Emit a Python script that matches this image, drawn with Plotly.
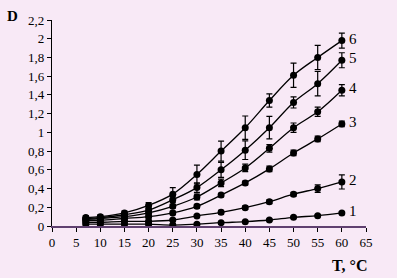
import plotly.graph_objects as go

T = [7, 10, 15, 20, 25, 30, 35, 40, 45, 50, 55, 60]
s1 = [0.02, 0.02, 0.02, 0.02, 0.01, 0.02, 0.035, 0.046, 0.064, 0.093, 0.11, 0.14]
s2 = [0.04, 0.04, 0.05, 0.05, 0.064, 0.107, 0.146, 0.196, 0.26, 0.34, 0.40, 0.47]
s3 = [0.06, 0.06, 0.08, 0.10, 0.14, 0.21, 0.33, 0.46, 0.61, 0.78, 0.93, 1.09]
s4 = [0.07, 0.08, 0.10, 0.14, 0.21, 0.31, 0.46, 0.62, 0.83, 1.05, 1.22, 1.45]
s5 = [0.08, 0.09, 0.12, 0.17, 0.28, 0.41, 0.60, 0.81, 1.05, 1.32, 1.52, 1.77]
s6 = [0.09, 0.10, 0.14, 0.22, 0.34, 0.55, 0.80, 1.05, 1.34, 1.61, 1.80, 1.98]
e1 = [0.01] * 12
e2 = [0.01, 0.01, 0.01, 0.01, 0.01, 0.01, 0.02, 0.02, 0.02, 0.02, 0.04, 0.075]
e3 = [0.01, 0.01, 0.01, 0.01, 0.02, 0.02, 0.02, 0.02, 0.03, 0.03, 0.03, 0.03]
e4 = [0.01, 0.01, 0.01, 0.02, 0.02, 0.03, 0.04, 0.04, 0.04, 0.05, 0.05, 0.06]
e5 = [0.01, 0.01, 0.02, 0.02, 0.03, 0.05, 0.08, 0.10, 0.12, 0.06, 0.13, 0.08]
e6 = [0.02, 0.02, 0.02, 0.03, 0.07, 0.10, 0.107, 0.125, 0.07, 0.13, 0.13, 0.08]
names = ["1", "2", "3", "4", "5", "6"]
xticks = list(range(0, 70, 5))
yticks = [0, 0.2, 0.4, 0.6, 0.8, 1.0, 1.2, 1.4, 1.6, 1.8, 2.0, 2.2]
ylabels = ["0", "0,2", "0,4", "0,6", "0,8", "1", "1,2", "1,4", "1,6", "1,8", "2", "2,2"]

series = [s1, s2, s3, s4, s5, s6]
errs = [e1, e2, e3, e4, e5, e6]
SERIF = "Liberation Serif, Times New Roman, serif"

fig = go.Figure()
for s, e, n in zip(series, errs, names):
    fig.add_trace(go.Scatter(
        x=T, y=s, mode="lines+markers", name=n,
        line=dict(color="black", width=1.3, shape="spline"),
        marker=dict(color="black", size=7, symbol="circle"),
        error_y=dict(type="data", array=e, visible=True, color="black", thickness=1.2, width=3),
        showlegend=False,
    ))
    fig.add_annotation(x=T[-1], y=s[-1], text=n, showarrow=False, xanchor="left",
                       xshift=5, yshift=2, font=dict(family=SERIF, size=15, color="black"))

fig.update_layout(
    width=397, height=278,
    margin=dict(l=52, r=31, t=20, b=52),
    paper_bgcolor="#F8E9F6", plot_bgcolor="#F8E9F6",
    font=dict(family=SERIF, size=12, color="black"),
)
fig.update_xaxes(range=[0, 65], tickvals=xticks, showgrid=False, zeroline=False,
                 showline=True, linecolor="#604070", linewidth=1.5, ticks="outside",
                 ticklen=4, tickcolor="black", tickfont=dict(family=SERIF, size=13))
fig.update_yaxes(range=[0, 2.2], tickvals=yticks, ticktext=ylabels, showgrid=False, zeroline=False,
                 showline=True, linecolor="black", linewidth=1.2, ticks="outside",
                 ticklen=4, tickcolor="black", tickfont=dict(family=SERIF, size=13))
fig.add_annotation(xref="paper", yref="paper", x=-0.125, y=1.02, text="<b>D</b>", showarrow=False,
                   xanchor="center", yanchor="middle", font=dict(family=SERIF, size=15, color="black"))
fig.add_annotation(xref="paper", yref="paper", x=1.01, y=-0.19, text="<b>T, °C</b>", showarrow=False,
                   xanchor="right", yanchor="middle", font=dict(family=SERIF, size=16, color="black"))
fig.write_html("out.html")
